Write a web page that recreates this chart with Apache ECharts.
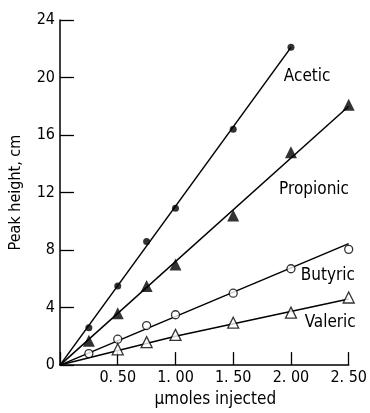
<!DOCTYPE html>
<html>
<head>
<meta charset="utf-8">
<script src="https://cdn.jsdelivr.net/npm/echarts@6/dist/echarts.min.js"></script>
<style>
  html, body { margin: 0; padding: 0; background: #fff; }
  #chart { width: 370px; height: 413px; }
</style>
</head>
<body>
<div id="chart"></div>
<script>
// micromoles injected
var xAll = [0.25, 0.5, 0.75, 1.0, 1.5, 2.0, 2.5];
var xValeric = [0.5, 0.75, 1.0, 1.5, 2.0, 2.5];
var xAcetic = [0.25, 0.5, 0.75, 1.0, 1.5, 2.0];

// peak heights, cm
var acetic = [2.6, 5.5, 8.6, 10.9, 16.4, 22.1];
var propionic = [1.7, 3.6, 5.5, 7.0, 10.4, 14.8, 18.1];
var butyric = [0.8, 1.8, 2.75, 3.5, 5.0, 6.7, 8.05];
var valeric = [1.1, 1.6, 2.1, 2.95, 3.65, 4.7];

// drawn calibration lines
var aceticFit = [[0, 0], [2.0, 22.1]];
var propionicFit = [[0, 0], [2.5, 18.0]];
var butyricFit = [[0, 0], [2.5, 8.45]];
var valericFit = [[0, 0], [1.0, 2.0], [2.5, 4.6]];

// where the names sit
var names = ['Acetic', 'Propionic', 'Butyric', 'Valeric'];
var nameAt = [[2.14, 20.1], [2.2, 12.2], [2.32, 6.2], [2.34, 2.96]];

var xTicks = ['', '0. 50', '1. 00', '1. 50', '2. 00', '2. 50'];

var font = 'DejaVu Sans Condensed';

function pairs(xs, ys) {
  return ys.map(function (y, i) { return [xs[i], y]; });
}

function fitLine(data, idx) {
  return {
    type: 'line',
    data: data,
    showSymbol: false,
    symbol: 'none',
    lineStyle: { color: '#000', width: 1.5 },
    markPoint: {
      symbol: 'circle',
      symbolSize: 0,
      data: [{ coord: nameAt[idx], value: names[idx] }],
      label: {
        show: true,
        position: 'inside',
        formatter: names[idx],
        color: '#000',
        fontFamily: font,
        fontSize: 17
      }
    }
  };
}

function dots(data, symbol, size, filled) {
  return {
    type: 'scatter',
    data: data,
    symbol: symbol,
    symbolSize: size,
    itemStyle: {
      color: filled ? '#000' : '#fff',
      borderColor: '#000',
      borderWidth: filled ? 0 : 1.3
    },
    z: 5
  };
}

var myChart = echarts.init(document.getElementById('chart'));
var option = {
  animation: false,
  backgroundColor: '#fff',
  grid: { left: 59, right: 19, top: 20, bottom: 44 },
  xAxis: {
    type: 'value',
    min: 0,
    max: 2.5,
    interval: 0.5,
    name: 'μmoles injected',
    nameLocation: 'middle',
    nameGap: 18,
    nameTextStyle: { color: '#000', fontFamily: font, fontSize: 17, padding: [0, 0, 0, 22] },
    axisLine: { lineStyle: { color: '#000', width: 1.5 } },
    axisTick: { inside: true, length: 13, lineStyle: { color: '#000', width: 1.3 } },
    axisLabel: {
      color: '#000',
      fontFamily: font,
      fontSize: 16,
      margin: 5,
      formatter: function (v) { return xTicks[Math.round(v / 0.5)]; }
    },
    splitLine: { show: false }
  },
  yAxis: {
    type: 'value',
    min: 0,
    max: 24,
    interval: 4,
    name: 'Peak height, cm',
    nameLocation: 'middle',
    nameGap: 36,
    nameTextStyle: { color: '#000', fontFamily: font, fontSize: 16 },
    axisLine: { lineStyle: { color: '#000', width: 1.5 } },
    axisTick: { inside: true, length: 14, lineStyle: { color: '#000', width: 1.3 } },
    axisLabel: { color: '#000', fontFamily: font, fontSize: 16, margin: 5 },
    splitLine: { show: false }
  },
  series: [
    fitLine(aceticFit, 0),
    fitLine(propionicFit, 1),
    fitLine(butyricFit, 2),
    fitLine(valericFit, 3),
    dots(pairs(xAcetic, acetic), 'circle', 7, true),
    dots(pairs(xAll, propionic), 'triangle', 12, true),
    dots(pairs(xAll, butyric), 'circle', 8, false),
    dots(pairs(xValeric, valeric), 'triangle', 11, false)
  ]
};
option && myChart.setOption(option);
</script>
</body>
</html>
